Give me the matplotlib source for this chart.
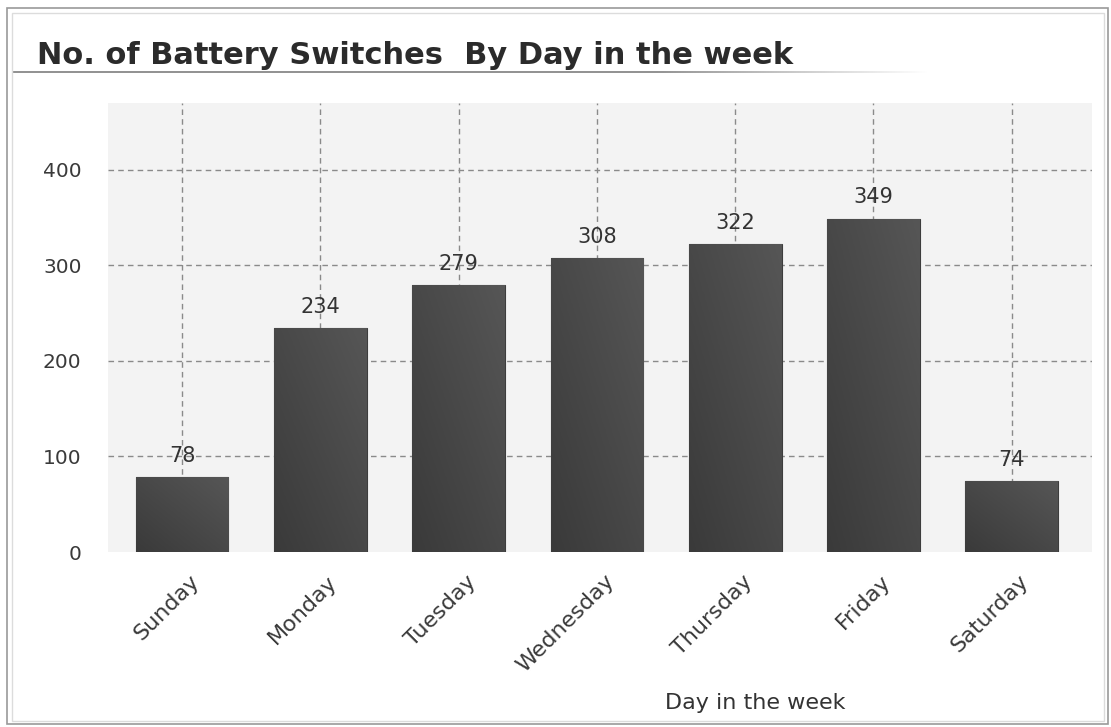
import numpy as np
import matplotlib
matplotlib.use('Agg')
from matplotlib import pyplot as plt
from matplotlib.patches import Rectangle
from matplotlib import transforms


days = ['Sunday', 'Monday', 'Tuesday', 'Wednesday', 'Thursday', 'Friday', 'Saturday']
switches = [78, 234, 279, 308, 322, 349, 74]

plt.rcParams['font.family'] = 'DejaVu Sans'

W, H = 1111, 727
fig = plt.figure(figsize=(W / 100, H / 100), dpi=100)
fig.patch.set_facecolor('white')

# panel frame
fig.patches.append(Rectangle((7 / W, 3 / H), 1101 / W, 716 / H, transform=fig.transFigure,
                             fill=False, edgecolor='#9a9a9a', linewidth=1.2))
fig.patches.append(Rectangle((12 / W, 6 / H), 1092 / W, 708 / H, transform=fig.transFigure,
                             fill=False, edgecolor='#dcdcdc', linewidth=1.0))

fig.text(37 / W, 1 - 55 / H, 'No. of Battery Switches  By Day in the week',
         fontsize=22, fontweight='bold', color='#2b2b2b', va='center', ha='left')

# title underline, fading to the right
uax = fig.add_axes([13 / W, 1 - 73 / H, 917 / W, 2 / H])
uax.axis('off')
alpha = np.concatenate([np.ones(140), np.linspace(1, 0, 60)])
rgba = np.zeros((1, alpha.size, 4))
rgba[..., :3] = 0.58
rgba[0, :, 3] = alpha
uax.imshow(rgba, aspect='auto', extent=(0, 1, 0, 1), interpolation='bilinear')

ax = fig.add_axes([108 / W, 1 - 552 / H, 984 / W, 449 / H])
ax.set_facecolor('#f3f3f3')
for s in ax.spines.values():
    s.set_visible(False)

x = np.arange(len(days))
bars = ax.bar(x, switches, width=0.67, color='#474747', edgecolor='#3d3d3d', linewidth=0.8, zorder=3)

# diagonal shading on each bar
grad = np.linspace(0, 1, 64)
gx, gy = np.meshgrid(grad, grad)
shade = (gx + gy) / 2
cmap = matplotlib.colors.LinearSegmentedColormap.from_list('barshade', ['#3a3a3a', '#565656'])
for b in bars:
    x0, y0 = b.get_x(), b.get_y()
    w, h = b.get_width(), b.get_height()
    im = ax.imshow(shade, cmap=cmap, extent=(x0, x0 + w, y0, y0 + h), origin='lower',
                   aspect='auto', zorder=3.5)
    im.set_clip_path(b)

for xi, v in zip(x, switches):
    ax.annotate(str(v), (xi, v), xytext=(0, 8), textcoords='offset points',
                ha='center', va='bottom', fontsize=15, color='#333333', zorder=5)

ax.set_xlim(-0.535, 6.58)
ax.set_ylim(0, 470)
ax.set_yticks([0, 100, 200, 300, 400])
ax.set_xticks(x)
ax.set_xticklabels(days)

# dashed grid: horizontal lines above zero, vertical lines at each day
dash = (0, (4, 3))
for yv in [100, 200, 300, 400]:
    ax.axhline(yv, linestyle=dash, color='#8a8a8a', linewidth=1.0, zorder=1)
for xi in x:
    ax.axvline(xi, linestyle=dash, color='#8a8a8a', linewidth=1.0, zorder=1)

ax.tick_params(axis='both', length=0, labelcolor='#3a3a3a')
ax.tick_params(axis='y', pad=19, labelsize=14.5)
ax.tick_params(axis='x', pad=19, labelsize=16)

offset = transforms.ScaledTranslation(14 / 100, 0, fig.dpi_scale_trans)
for lbl in ax.get_xticklabels():
    lbl.set_rotation(45)
    lbl.set_ha('right')
    lbl.set_va('center')
    lbl.set_rotation_mode('anchor')
    lbl.set_transform(lbl.get_transform() + offset)

fig.text(755 / W, 1 - 703 / H, 'Day in the week', fontsize=16, color='#333333',
         ha='center', va='center')

fig.savefig('out.png', dpi=100)
